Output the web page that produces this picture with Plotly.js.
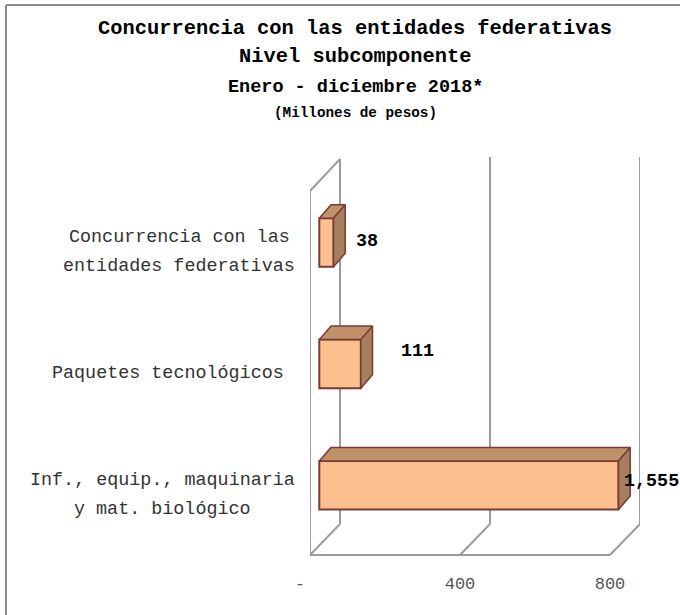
<!DOCTYPE html>
<html><head><meta charset="utf-8">
<script src="https://cdn.plot.ly/plotly-3.0.1.min.js"></script>
<style>html,body{margin:0;padding:0;background:#fff}</style>
</head><body><div id="chart" style="width:680px;height:615px"></div>
<script>
// Data
const categories = [
  ["Inf., equip., maquinaria", "y mat. biológico"],
  ["Paquetes tecnológicos"],
  ["Concurrencia con las", "entidades federativas"]
];
const values = [1555, 111, 38];
const valueLabels = ["1,555", "111", "38"];
const tickValues = [0, 400, 800];
const tickLabels = ["-\u00a0\u00a0", "400", "800"];
const axisMax = 800;
const titleLine = "Concurrencia con las entidades federativas";
const subLines = ["Nivel subcomponente", "Enero - diciembre 2018*", "(Millones de pesos)"];

// Layout constants (pixels)
const W = 680, H = 615;
const FONT = '"Liberation Mono", monospace';
const plotL = 310, plotR = 640, plotT = 157, plotB = 555;
const pxPerUnitBar = 0.374, barZeroPx = 319.3;
const pxPerUnitAxis = 0.375;
const pxPerCat = 121.4, cat0Px = 485.3;
const depthX = 11.7 / pxPerUnitBar, depthY = 13.5 / pxPerCat;
const barWidth = 0.4;
const py = p => 1 - p / H, px = p => p / W;

const positions = values.map((_, i) => i);
const shown = values.map(v => Math.min(v, axisMax));

const topX = [], topY = [], sideX = [], sideY = [];
shown.forEach((v, i) => {
  const lo = i - barWidth / 2, hi = i + barWidth / 2;
  topX.push(0, depthX, v + depthX, v, 0, null);
  topY.push(hi, hi + depthY, hi + depthY, hi, hi, null);
  sideX.push(v, v + depthX, v + depthX, v, v, null);
  sideY.push(hi, hi + depthY, lo + depthY, lo, hi, null);
});

const edge = "#7B3A36";
const traces = [
  {type: "bar", orientation: "h", x: shown, y: positions, width: barWidth,
   marker: {color: "#FBC08D", line: {color: edge, width: 2}}, hoverinfo: "skip"},
  {type: "scatter", mode: "lines", x: topX, y: topY, fill: "toself", fillcolor: "#BE9169",
   line: {color: edge, width: 1.5}, hoverinfo: "skip", cliponaxis: false},
  {type: "scatter", mode: "lines", x: sideX, y: sideY, fill: "toself", fillcolor: "#A67F5C",
   line: {color: edge, width: 1.5}, hoverinfo: "skip", cliponaxis: false},
  {type: "scatter", mode: "markers", x: [0], y: [0], xaxis: "x2", yaxis: "y",
   marker: {opacity: 0}, hoverinfo: "skip"}
];

// Walls and floor
const wall = "#9C9C9C";
const axisDepth = 30 / pxPerUnitAxis;
const wallLine = {color: wall, width: 2};
const shapes = [];
tickValues.slice(1).forEach(t => {
  shapes.push({type: "line", layer: "below", xref: "x2", yref: "paper", x0: t, x1: t + axisDepth, y0: py(plotB), y1: py(524), line: wallLine});
  shapes.push({type: "line", layer: "below", xref: "x2", yref: "paper", x0: t + axisDepth, x1: t + axisDepth, y0: py(524), y1: py(plotT), line: wallLine});
});
[[0, plotB, 0, 191], [0, 191, axisDepth, 159], [axisDepth, 159, axisDepth, 524], [axisDepth, 524, 0, plotB], [0, plotB, 800, plotB]].forEach(s => {
  shapes.push({type: "line", layer: "below", xref: "x2", yref: "paper", x0: s[0], x1: s[2], y0: py(s[1]), y1: py(s[3]), line: wallLine});
});
// Outer frame
const frame = {color: "#8C8C8C", width: 2};
shapes.push({type: "line", xref: "paper", yref: "paper", x0: px(6), x1: 1, y0: py(5), y1: py(5), line: frame});
shapes.push({type: "line", xref: "paper", yref: "paper", x0: px(6), x1: px(6), y0: py(5), y1: 0, line: frame});

const annotations = [];
const labelCenters = [162.5, 168, 179];
const labelShift = -9.5;
const lineGap = 29;
categories.forEach((lines, i) => {
  lines.forEach((t, j) => {
    const off = (j - (lines.length - 1) / 2) * lineGap;
    annotations.push({text: t, xref: "paper", yref: "y", x: px(labelCenters[i]), y: positions[i],
      yshift: labelShift - off, xanchor: "center", yanchor: "middle", showarrow: false,
      font: {family: FONT, size: 18.4, color: "#333333"}});
  });
});
const valueXShift = [4, 38, 3.5];
valueXShift[0] = 3.5; valueXShift[2] = 20;
const valueYShift = [3.6, 12, 1.5];
values.forEach((v, i) => {
  annotations.push({text: valueLabels[i], xref: "x", yref: "y", x: shown[i], y: positions[i],
    xshift: valueXShift[i], yshift: valueYShift[i], xanchor: "left", yanchor: "middle", showarrow: false,
    font: {family: FONT, size: 18.4, color: "#000000", weight: 700}});
});
const subY = [56, 87, 113], subSize = [20.4, 18.5, 14.3];
subLines.forEach((t, i) => {
  annotations.push({text: t, xref: "paper", yref: "paper", x: px(355), y: py(subY[i]),
    xanchor: "center", yanchor: "middle", showarrow: false,
    font: {family: FONT, size: subSize[i], color: "#000000", weight: 700}});
});

const layout = {
  width: W, height: H, autosize: false, showlegend: false, bargap: 0,
  margin: {l: 0, r: 0, t: 0, b: 0, pad: 0},
  paper_bgcolor: "#fff", plot_bgcolor: "rgba(0,0,0,0)",
  title: {text: titleLine, x: px(355), xanchor: "center", y: py(27), yanchor: "middle",
    font: {family: FONT, size: 20.4, color: "#000", weight: 700}},
  xaxis: {domain: [px(plotL), px(plotR)], visible: false,
    range: [(plotL - barZeroPx) / pxPerUnitBar, (plotR - barZeroPx) / pxPerUnitBar], fixedrange: true},
  xaxis2: {overlaying: "x", anchor: "y", side: "bottom", range: [0, (plotR - plotL) / pxPerUnitAxis],
    tickmode: "array", tickvals: tickValues, ticktext: tickLabels, showgrid: false, zeroline: false,
    showline: false, ticks: "outside", ticklen: 13, tickcolor: "rgba(0,0,0,0)",
    tickangle: 0, tickfont: {family: FONT, size: 17, color: "#555555"}, fixedrange: true},
  yaxis: {domain: [py(plotB), py(plotT)], visible: false,
    range: [(cat0Px - plotB) / pxPerCat, (cat0Px - plotT) / pxPerCat], fixedrange: true},
  shapes, annotations
};
Plotly.newPlot("chart", traces, layout, {displayModeBar: false, staticPlot: true});
</script></body></html>
